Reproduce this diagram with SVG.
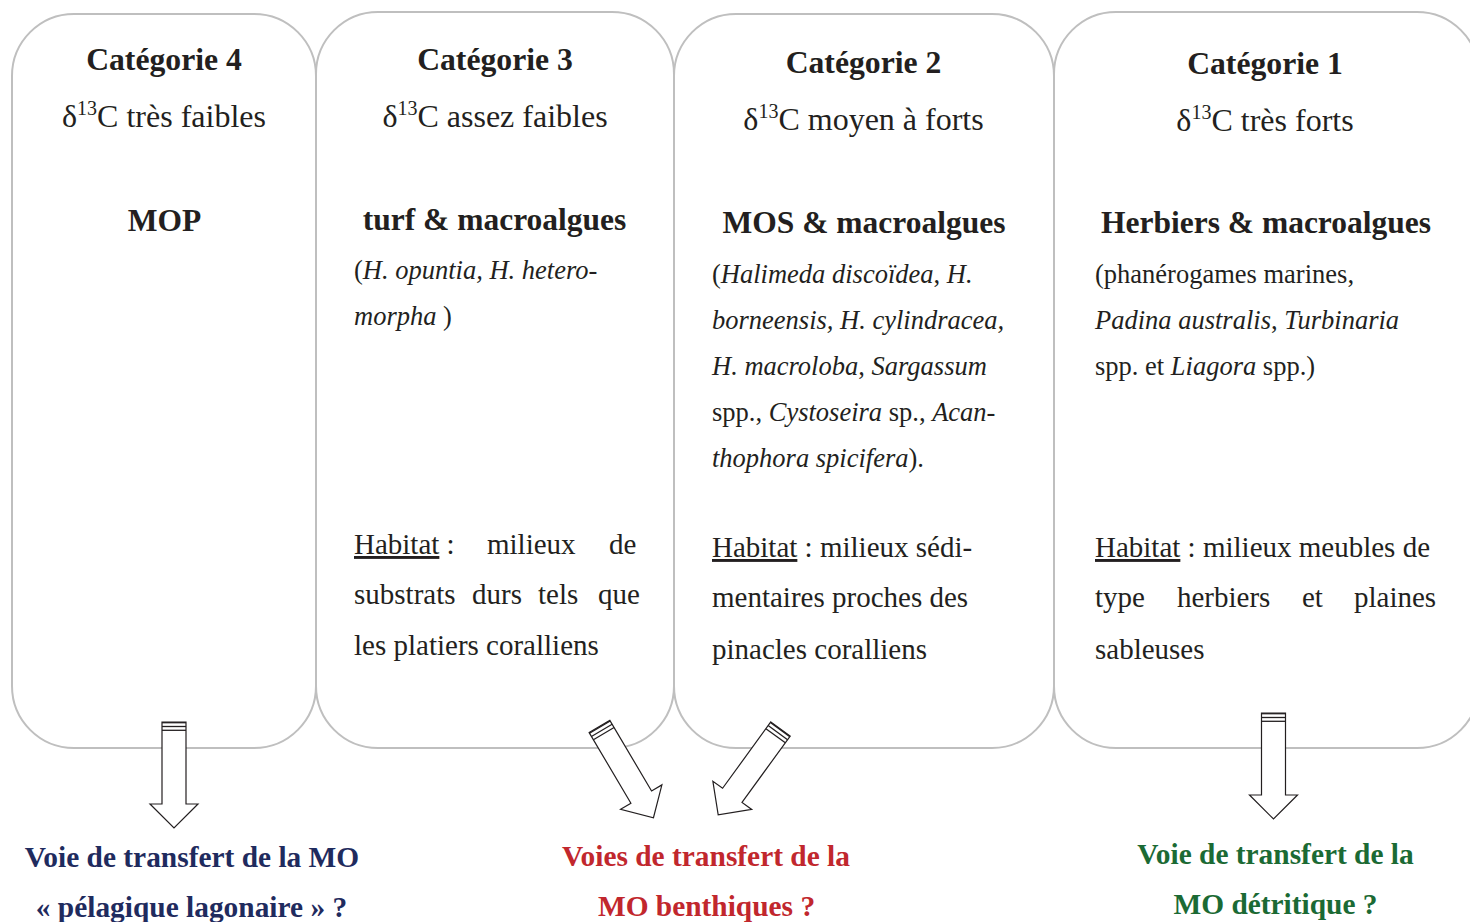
<svg xmlns="http://www.w3.org/2000/svg" width="1470" height="922" viewBox="0 0 1470 922">
<style>
.box{fill:#fff;stroke:#bfbfbf;stroke-width:2}
text{font-family:"Liberation Serif","Times New Roman",serif;fill:#231f20}
.t{font-size:31.7px;font-weight:bold;text-anchor:middle}
.d{font-size:32px;text-anchor:middle}
.sup{font-size:20px}
.s{font-size:31.5px;font-weight:bold;text-anchor:middle}
.sp{font-size:26.5px}
.h{font-size:29px}
.i{font-style:italic}
.u{text-decoration:underline}
.lab{font-size:29.4px;font-weight:bold;text-anchor:middle}
.navy{fill:#1f2b5e}
.red{fill:#c1272d}
.green{fill:#1b6a34}
.arr{fill:#fff;stroke:#231f20;stroke-width:1.2;stroke-linejoin:miter}
.str{stroke:#231f20;stroke-width:1.3}
</style>
<defs>
<g id="blockArrow">
<polygon class="arr" points="-12,0 12,0 12,82 24,82 0,106 -24,82 -12,82"/>
<line class="str" x1="-12" y1="0.7" x2="12" y2="0.7"/>
<line class="str" x1="-12" y1="4.5" x2="12" y2="4.5"/>
<line class="str" x1="-12" y1="8.3" x2="12" y2="8.3"/>
</g>
</defs>
<rect width="1470" height="922" fill="#fff"/>

<g id="cat4">
<rect class="box" x="12" y="14" width="304" height="734" rx="62" ry="62"/>
<text class="t" x="164" y="70">Catégorie 4</text>
<text class="d" x="164" y="127">δ<tspan class="sup" dy="-12">13</tspan><tspan dy="12">C très faibles</tspan></text>
<text class="s" x="164.5" y="231">MOP</text>
</g>

<g id="cat3">
<rect class="box" x="316" y="12" width="358" height="736" rx="62" ry="62"/>
<text class="t" x="495" y="70">Catégorie 3</text>
<text class="d" x="495" y="127">δ<tspan class="sup" dy="-12">13</tspan><tspan dy="12">C assez faibles</tspan></text>
<text class="s" x="494.5" y="230">turf &amp; macroalgues</text>
<text class="sp" x="354" y="279">(<tspan class="i">H. opuntia, H. hetero-</tspan></text>
<text class="sp" x="354" y="325"><tspan class="i">morpha </tspan>)</text>
<text class="h" y="554"><tspan x="354" class="u">Habitat</tspan><tspan> :</tspan><tspan x="487">milieux</tspan><tspan x="609">de</tspan></text>
<text class="h" y="604"><tspan x="354">substrats</tspan><tspan x="472">durs</tspan><tspan x="538">tels</tspan><tspan x="598">que</tspan></text>
<text class="h" x="354" y="655">les platiers coralliens</text>
</g>

<g id="cat2">
<rect class="box" x="674" y="14" width="380" height="734" rx="62" ry="62"/>
<text class="t" x="863.5" y="73">Catégorie 2</text>
<text class="d" x="863.5" y="130">δ<tspan class="sup" dy="-12">13</tspan><tspan dy="12">C moyen à forts</tspan></text>
<text class="s" x="864" y="233">MOS &amp; macroalgues</text>
<text class="sp" x="712" y="283">(<tspan class="i">Halimeda discoïdea</tspan>, <tspan class="i">H.</tspan></text>
<text class="sp i" x="712" y="329">borneensis, H. cylindracea,</text>
<text class="sp" x="712" y="375"><tspan class="i">H. macroloba</tspan>, <tspan class="i">Sargassum</tspan></text>
<text class="sp" x="712" y="421">spp., <tspan class="i">Cystoseira</tspan> sp., <tspan class="i">Acan-</tspan></text>
<text class="sp" x="712" y="467"><tspan class="i">thophora spicifera</tspan>).</text>
<text class="h" x="712" y="557"><tspan class="u">Habitat</tspan> : milieux sédi-</text>
<text class="h" x="712" y="607">mentaires proches des</text>
<text class="h" x="712" y="659">pinacles coralliens</text>
</g>

<g id="cat1">
<rect class="box" x="1054" y="12" width="425" height="736" rx="62" ry="62"/>
<text class="t" x="1265" y="74">Catégorie 1</text>
<text class="d" x="1265" y="131">δ<tspan class="sup" dy="-12">13</tspan><tspan dy="12">C très forts</tspan></text>
<text class="s" x="1266" y="233">Herbiers &amp; macroalgues</text>
<text class="sp" x="1095" y="283">(phanérogames marines,</text>
<text class="sp" x="1095" y="329"><tspan class="i">Padina australis</tspan>, <tspan class="i">Turbinaria</tspan></text>
<text class="sp" x="1095" y="375">spp. et <tspan class="i">Liagora</tspan> spp.)</text>
<text class="h" x="1095" y="557"><tspan class="u">Habitat</tspan> : milieux meubles de</text>
<text class="h" y="607"><tspan x="1095">type</tspan><tspan x="1177">herbiers</tspan><tspan x="1302">et</tspan><tspan x="1354">plaines</tspan></text>
<text class="h" x="1095" y="659">sableuses</text>
</g>

<g id="connectors">
<use href="#blockArrow" transform="translate(174,722)"/>
<use href="#blockArrow" transform="translate(599.5,726.5) rotate(-30.6)"/>
<use href="#blockArrow" transform="translate(780.5,729) rotate(36)"/>
<use href="#blockArrow" transform="translate(1273.5,713)"/>
</g>

<g id="label-pelagique">
<text class="lab navy" x="192" y="867">Voie de transfert de la MO</text>
<text class="lab navy" x="191.5" y="917">« pélagique lagonaire » ?</text>
</g>
<g id="label-benthique">
<text class="lab red" x="706" y="866">Voies de transfert de la</text>
<text class="lab red" x="706.5" y="916">MO benthiques ?</text>
</g>
<g id="label-detritique">
<text class="lab green" x="1275.5" y="864">Voie de transfert de la</text>
<text class="lab green" x="1275.5" y="914">MO détritique ?</text>
</g>
</svg>
